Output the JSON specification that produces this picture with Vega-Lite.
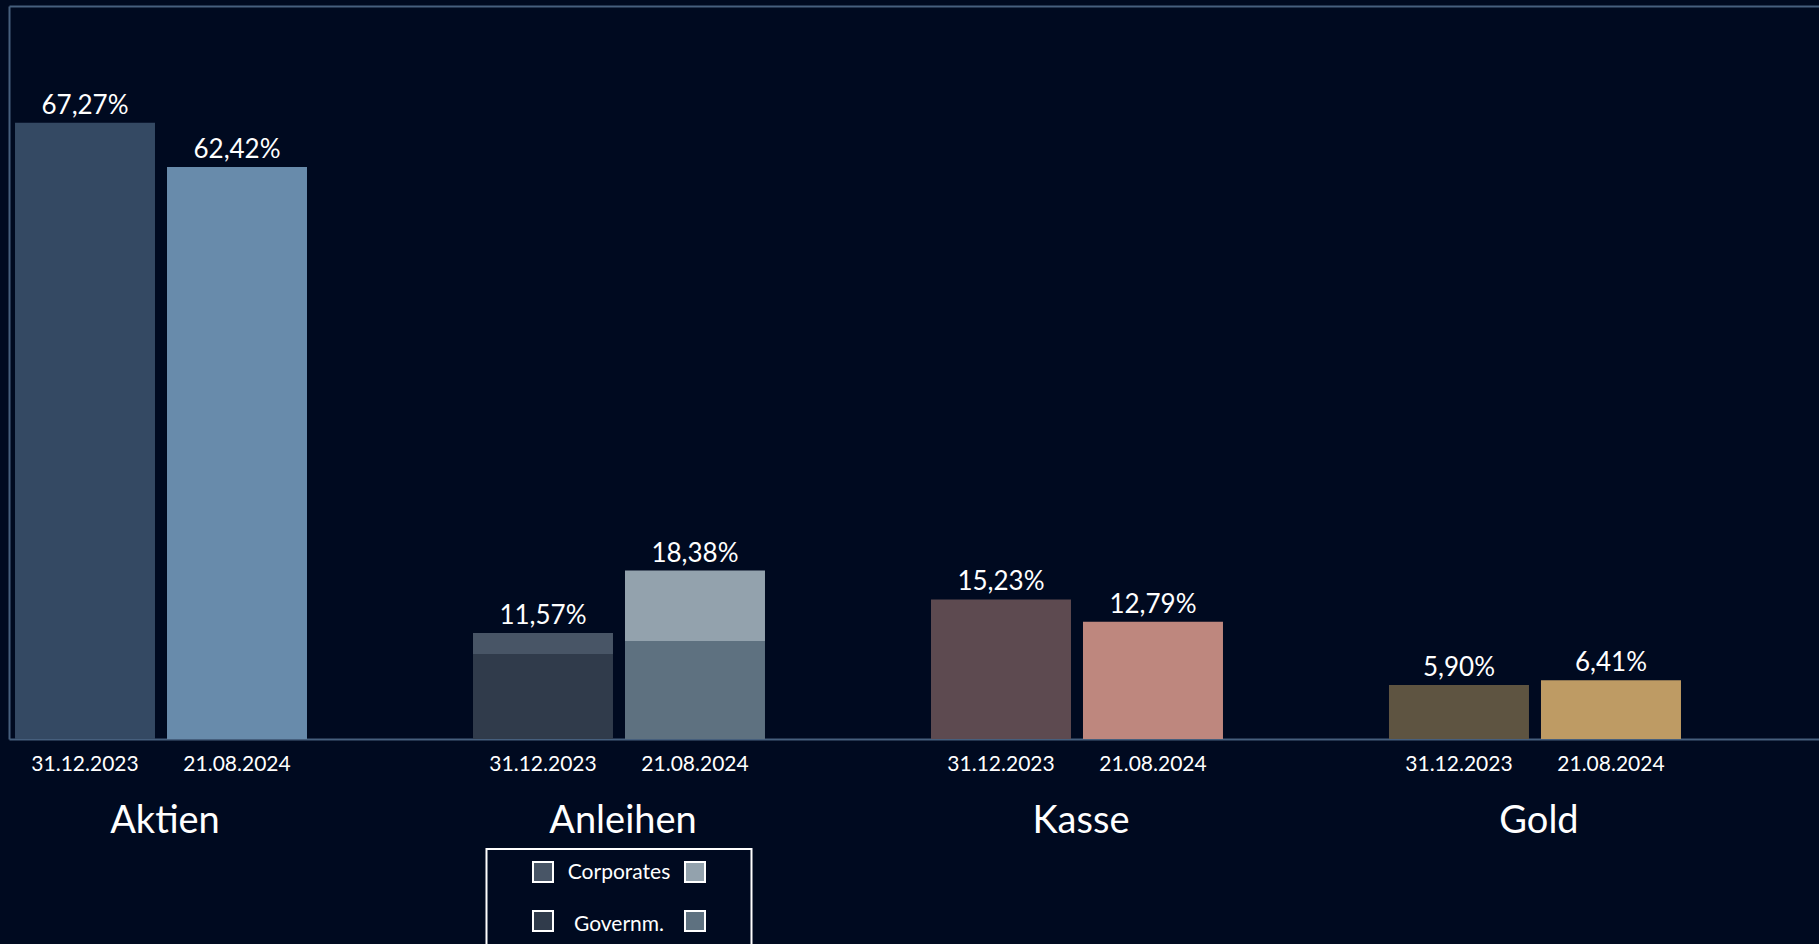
{
  "$schema": "https://vega.github.io/schema/vega-lite/v6.json",
  "autosize": {"type": "none"},
  "width": 1810,
  "height": 733,
  "padding": {"left": 9, "top": 6, "right": 0, "bottom": 205},
  "background": "#000a20",
  "config": {
    "locale": {"number": {"decimal": ",", "thousands": ".", "grouping": [3], "currency": ["", " €"]}},
    "view": {"stroke": null},
    "font": "Lato",
    "text": {"font": "Lato", "color": "#ffffff"}
  },
  "datasets": {
    "alloc": [
      {"cat": "Aktien", "date": "31.12.2023", "segment": "Total", "key": "Aktien|31.12.2023", "value": 0.6727},
      {"cat": "Aktien", "date": "21.08.2024", "segment": "Total", "key": "Aktien|21.08.2024", "value": 0.6242},
      {"cat": "Anleihen", "date": "31.12.2023", "segment": "Governm.", "key": "Governm.|31.12.2023", "value": 0.0928},
      {"cat": "Anleihen", "date": "31.12.2023", "segment": "Corporates", "key": "Corporates|31.12.2023", "value": 0.0229},
      {"cat": "Anleihen", "date": "21.08.2024", "segment": "Governm.", "key": "Governm.|21.08.2024", "value": 0.1070},
      {"cat": "Anleihen", "date": "21.08.2024", "segment": "Corporates", "key": "Corporates|21.08.2024", "value": 0.0768},
      {"cat": "Kasse", "date": "31.12.2023", "segment": "Total", "key": "Kasse|31.12.2023", "value": 0.1523},
      {"cat": "Kasse", "date": "21.08.2024", "segment": "Total", "key": "Kasse|21.08.2024", "value": 0.1279},
      {"cat": "Gold", "date": "31.12.2023", "segment": "Total", "key": "Gold|31.12.2023", "value": 0.0590},
      {"cat": "Gold", "date": "21.08.2024", "segment": "Total", "key": "Gold|21.08.2024", "value": 0.0641}
    ],
    "legend": [
      {"cat": "Anleihen", "date": "31.12.2023", "segment": "Corporates", "key": "Corporates|31.12.2023"},
      {"cat": "Anleihen", "date": "21.08.2024", "segment": "Corporates", "key": "Corporates|21.08.2024"},
      {"cat": "Anleihen", "date": "31.12.2023", "segment": "Governm.", "key": "Governm.|31.12.2023"},
      {"cat": "Anleihen", "date": "21.08.2024", "segment": "Governm.", "key": "Governm.|21.08.2024"}
    ],
    "legendbox": [
      {"cat": "Anleihen"}
    ]
  },
  "resolve": {"axis": {"x": "independent", "y": "independent"}},
  "layer": [
    {
      "data": {"name": "alloc"},
      "mark": {"type": "bar"},
      "encoding": {
        "x": {
          "field": "cat", "type": "nominal", "sort": null,
          "scale": {"domain": ["Aktien", "Anleihen", "Kasse", "Gold"], "paddingInner": 0.36245, "paddingOuter": 0.15724, "align": 0.0417, "round": false},
          "axis": {"orient": "bottom", "title": null, "ticks": false, "tickSize": 0, "labelPadding": 63, "labelOffset": 4, "labelFont": "Lato", "labelFontSize": 38, "labelColor": "#ffffff", "labelAngle": 0, "domain": true, "domainColor": "#465f7d", "domainWidth": 2, "grid": false}
        },
        "xOffset": {
          "field": "date", "type": "nominal", "sort": null,
          "scale": {"domain": ["31.12.2023", "21.08.2024"], "paddingInner": 0.079, "paddingOuter": 0, "round": false}
        },
        "y": {
          "field": "value", "type": "quantitative",
          "scale": {"domain": [0, 0.8], "nice": false, "zero": true},
          "axis": {"orient": "left", "title": null, "labels": false, "ticks": false, "tickSize": 0, "grid": false, "domain": true, "domainColor": "#465f7d", "domainWidth": 2}
        },
        "color": {
          "field": "key", "type": "nominal", "legend": null,
          "scale": {
            "domain": ["Aktien|31.12.2023", "Aktien|21.08.2024", "Governm.|31.12.2023", "Corporates|31.12.2023", "Governm.|21.08.2024", "Corporates|21.08.2024", "Kasse|31.12.2023", "Kasse|21.08.2024", "Gold|31.12.2023", "Gold|21.08.2024"],
            "range": ["#344963", "#688bab", "#303b4b", "#485566", "#5e7180", "#93a2ad", "#5d4a50", "#be877e", "#5e5441", "#be9b64"]
          }
        },
        "order": {"field": "segment", "type": "ordinal", "sort": "descending"}
      }
    },
    {
      "data": {"name": "alloc"},
      "transform": [{"aggregate": [{"op": "sum", "field": "value", "as": "total"}], "groupby": ["cat", "date"]}],
      "mark": {"type": "text", "baseline": "alphabetic", "align": "center", "dy": -9, "fontSize": 26, "font": "Lato", "color": "#ffffff"},
      "encoding": {
        "x": {
          "field": "cat", "type": "nominal", "sort": null,
          "axis": {"orient": "top", "title": null, "labels": false, "ticks": false, "domain": true, "domainColor": "#465f7d", "domainWidth": 2, "grid": false}
        },
        "xOffset": {"field": "date", "type": "nominal", "sort": null},
        "y": {"field": "total", "type": "quantitative", "scale": {"domain": [0, 0.8], "nice": false}, "axis": null},
        "text": {"field": "total", "type": "quantitative", "format": ".2%"}
      }
    },
    {
      "data": {"name": "alloc"},
      "transform": [{"aggregate": [{"op": "sum", "field": "value", "as": "total"}], "groupby": ["cat", "date"]}],
      "mark": {"type": "text", "baseline": "alphabetic", "align": "center", "dy": 32, "fontSize": 21, "font": "Lato", "color": "#ffffff"},
      "encoding": {
        "x": {"field": "cat", "type": "nominal", "sort": null, "axis": null},
        "xOffset": {"field": "date", "type": "nominal", "sort": null},
        "y": {"datum": 0, "type": "quantitative", "axis": null},
        "text": {"field": "date", "type": "nominal"}
      }
    },
    {
      "data": {"name": "legendbox"},
      "mark": {"type": "bar", "width": 265, "fill": "#000a20", "fillOpacity": 0, "stroke": "#ffffff", "strokeWidth": 2},
      "encoding": {
        "x": {"field": "cat", "type": "nominal", "sort": null, "axis": null},
        "y": {"datum": -0.12005, "type": "quantitative", "axis": null},
        "y2": {"datum": -0.26}
      }
    },
    {
      "data": {"name": "legend"},
      "transform": [{"filter": "datum.segment === 'Corporates'"}],
      "mark": {"type": "square", "size": 400, "filled": true, "opacity": 1, "stroke": "#ffffff", "strokeWidth": 2},
      "encoding": {
        "x": {"field": "cat", "type": "nominal", "sort": null, "axis": null},
        "xOffset": {"field": "date", "type": "nominal", "sort": null},
        "y": {"datum": -0.14516, "type": "quantitative", "axis": null},
        "color": {"field": "key", "type": "nominal", "legend": null}
      }
    },
    {
      "data": {"name": "legend"},
      "transform": [{"filter": "datum.segment === 'Governm.'"}],
      "mark": {"type": "square", "size": 400, "filled": true, "opacity": 1, "stroke": "#ffffff", "strokeWidth": 2},
      "encoding": {
        "x": {"field": "cat", "type": "nominal", "sort": null, "axis": null},
        "xOffset": {"field": "date", "type": "nominal", "sort": null},
        "y": {"datum": -0.19864, "type": "quantitative", "axis": null},
        "color": {"field": "key", "type": "nominal", "legend": null}
      }
    },
    {
      "data": {"name": "legend"},
      "transform": [{"filter": "datum.segment === 'Corporates' && datum.date === '31.12.2023'"}],
      "mark": {"type": "text", "baseline": "middle", "align": "center", "fontSize": 21, "font": "Lato", "color": "#ffffff"},
      "encoding": {
        "x": {"field": "cat", "type": "nominal", "sort": null, "axis": null},
        "y": {"datum": -0.1467, "type": "quantitative", "axis": null},
        "text": {"field": "segment", "type": "nominal"}
      }
    },
    {
      "data": {"name": "legend"},
      "transform": [{"filter": "datum.segment === 'Governm.' && datum.date === '31.12.2023'"}],
      "mark": {"type": "text", "baseline": "middle", "align": "center", "fontSize": 21, "font": "Lato", "color": "#ffffff"},
      "encoding": {
        "x": {"field": "cat", "type": "nominal", "sort": null, "axis": null},
        "y": {"datum": -0.2027, "type": "quantitative", "axis": null},
        "text": {"field": "segment", "type": "nominal"}
      }
    }
  ]
}
